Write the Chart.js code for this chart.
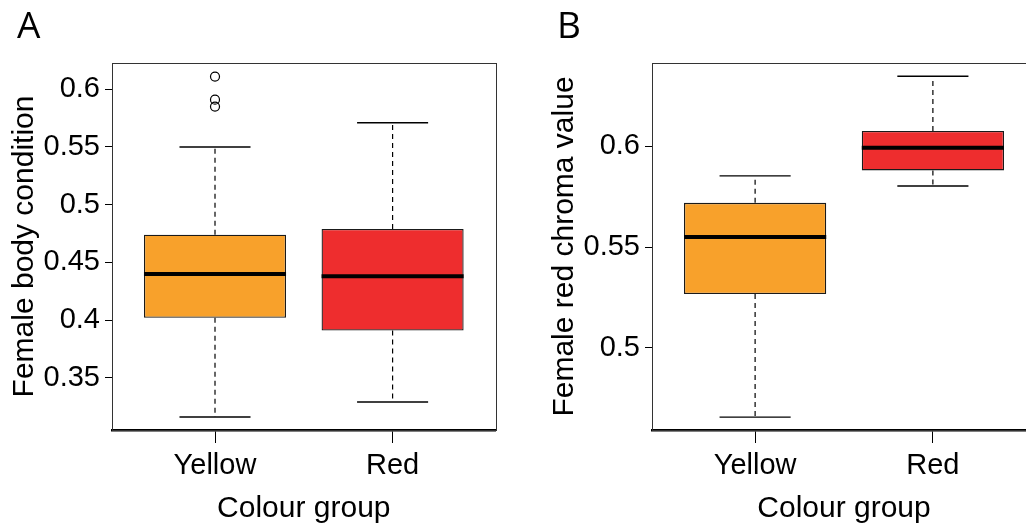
<!DOCTYPE html>
<html>
<head>
<meta charset="utf-8">
<script src="https://cdn.jsdelivr.net/npm/chart.js@4"></script>
<style>
 html,body{margin:0;padding:0;background:#fff;overflow:hidden;width:1026px;height:525px}
 canvas{position:absolute;top:0}
 #panelA{left:0}
 #panelB{left:540px}
</style>
</head>
<body>
<canvas id="panelA" width="520" height="525"></canvas>
<canvas id="panelB" width="520" height="525"></canvas>
<script>
const groups = ["Yellow", "Red"];
const groupColors = ["#F8A12B", "#EE2D2E"];
const groupRange = [0.42, 2.58];

// A: female body condition
const condLow = [0.316, 0.329];
const condQ1 = [0.402, 0.391];
const condMedian = [0.440, 0.438];
const condQ3 = [0.474, 0.479];
const condHigh = [0.550, 0.571];
const condOutliers = [[0.611, 0.591, 0.585], []];
const condTicks = [0.35, 0.4, 0.45, 0.5, 0.55, 0.6];
const condRange = [0.3047, 0.6228];

// B: female red chroma value
const chromaLow = [0.4656, 0.5803];
const chromaQ1 = [0.5267, 0.5880];
const chromaMedian = [0.5550, 0.5993];
const chromaQ3 = [0.5719, 0.6076];
const chromaHigh = [0.5853, 0.6347];
const chromaOutliers = [[], []];
const chromaTicks = [0.5, 0.55, 0.6];
const chromaRange = [0.4592, 0.6413];

const font = "'Liberation Sans', Arial, sans-serif";

function seg(points, width, dash, order) {
  return {type: "line", data: points, borderColor: "#000", borderWidth: width,
    borderDash: dash, borderCapStyle: "butt", pointRadius: 0, fill: false, order: order};
}

function boxSets(low, q1, med, q3, high, outliers) {
  const sets = [{
    type: "bar",
    data: groups.map((g, i) => ({x: i + 1, y: [q1[i], q3[i]]})),
    backgroundColor: groupColors,
    borderColor: "#1a1a1a",
    borderWidth: 1.3,
    borderSkipped: false,
    barPercentage: 0.8,
    categoryPercentage: 1,
    order: 2
  }];
  groups.forEach((g, i) => {
    const x = i + 1;
    sets.push(seg([{x: x, y: q3[i]}, {x: x, y: high[i]}], 1.2, [5, 4], 3));
    sets.push(seg([{x: x, y: q1[i]}, {x: x, y: low[i]}], 1.2, [5, 4], 3));
    sets.push(seg([{x: x - 0.2, y: high[i]}, {x: x + 0.2, y: high[i]}], 1.4, [], 3));
    sets.push(seg([{x: x - 0.2, y: low[i]}, {x: x + 0.2, y: low[i]}], 1.4, [], 3));
    sets.push(seg([{x: x - 0.4, y: med[i]}, {x: x + 0.4, y: med[i]}], 4, [], 0));
  });
  sets.push({
    type: "scatter",
    data: outliers.flatMap((o, i) => o.map(v => ({x: i + 1, y: v}))),
    pointRadius: 4.5,
    pointBackgroundColor: "rgba(255,255,255,0)",
    pointBorderColor: "#000",
    pointBorderWidth: 1.2,
    order: 0
  });
  return sets;
}

const frame = {
  id: "frame",
  afterDraw(chart) {
    const {ctx, chartArea: a} = chart;
    ctx.save();
    ctx.strokeStyle = "#333";
    ctx.lineWidth = 1;
    ctx.strokeRect(Math.round(a.left) + 0.5, Math.round(a.top) + 0.5,
      Math.round(a.right - a.left), Math.round(a.bottom - a.top));
    ctx.restore();
  }
};

function panel(id, letter, yTitle, sets, yTicks, yRange, padRight) {
  new Chart(document.getElementById(id), {
    type: "bar",
    data: {datasets: sets},
    plugins: [frame],
    options: {
      responsive: false,
      animation: false,
      layout: {padding: {left: 17, right: padRight, top: 0, bottom: 0}},
      plugins: {
        legend: {display: false},
        tooltip: {enabled: false},
        title: {display: true, text: letter, align: "start", color: "#000",
          font: {family: "'Open Sans', sans-serif", size: 37, weight: "normal"},
          padding: {top: 5, bottom: 13.6}}
      },
      scales: {
        x: {
          type: "linear", min: groupRange[0], max: groupRange[1], offset: false,
          afterBuildTicks: s => { s.ticks = groups.map((g, i) => ({value: i + 1})); },
          afterFit: s => { s.height = 95; },
          ticks: {callback: (v, i) => groups[i], color: "#000", padding: 6,
            maxRotation: 0, autoSkip: false, font: {family: font, size: 29}},
          grid: {drawOnChartArea: false, tickLength: 13, color: "#000", offset: false},
          border: {color: "#000", width: 2.5},
          title: {display: true, text: "Colour group", color: "#000",
            font: {family: font, size: 30}, padding: {top: 0, bottom: -2}}
        },
        y: {
          type: "linear", min: yRange[0], max: yRange[1], bounds: "data",
          afterBuildTicks: s => { s.ticks = yTicks.map(v => ({value: v})); },
          afterFit: s => { s.width = 95; },
          ticks: {callback: v => String(v), color: "#000", padding: 5,
            font: {family: font, size: 29}},
          grid: {drawOnChartArea: false, tickLength: 7, color: "#000"},
          border: {color: "#333", width: 1},
          title: {display: true, text: yTitle, color: "#000",
            font: {family: font, size: 30}, padding: {top: -10, bottom: 0}}
        }
      }
    }
  });
}

panel("panelA", "A", "Female body condition",
  boxSets(condLow, condQ1, condMedian, condQ3, condHigh, condOutliers),
  condTicks, condRange, 24.4);
panel("panelB", "B", "Female red chroma value",
  boxSets(chromaLow, chromaQ1, chromaMedian, chromaQ3, chromaHigh, chromaOutliers),
  chromaTicks, chromaRange, 24);
</script>
</body>
</html>
